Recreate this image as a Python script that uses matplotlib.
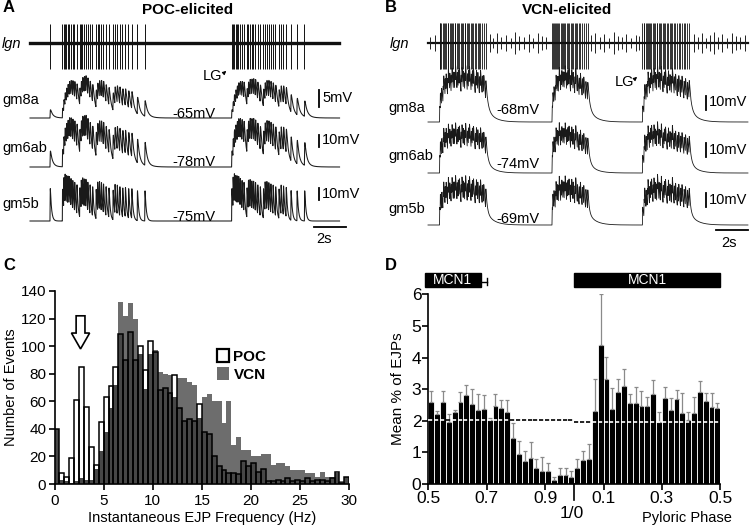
import numpy as np
import matplotlib.pyplot as plt
from matplotlib.patches import Rectangle, FancyArrow, Patch

plt.rcParams['font.family'] = ['Liberation Sans', 'DejaVu Sans']

W, H = 750, 529

# ---------------- data ----------------
# LG spike times (s), panel A (POC-elicited)
lg_poc = [1.25,
          2.02, 2.10, 2.18, 2.27, 2.36, 2.45, 2.55, 2.66, 2.78, 2.92,
          3.10, 3.19, 3.28, 3.38, 3.48, 3.60, 3.74, 3.90,
          4.12, 4.22, 4.33, 4.45, 4.58, 4.74, 4.92,
          5.18, 5.30, 5.44, 5.60, 5.78, 5.95, 6.15, 6.35, 6.70, 7.17,
          12.60, 12.68, 12.76, 12.85, 12.94, 13.03, 13.13, 13.24, 13.36,
          13.55, 13.64, 13.74, 13.85, 13.96, 14.08, 14.22, 14.38,
          14.58, 14.68, 14.79, 14.91, 15.04, 15.18, 15.34,
          15.55, 15.68, 15.83, 16.00, 16.30, 16.68, 17.15]

# LG spike times (s), panel B (VCN-elicited)
lg_vcn = [0.72, 0.76, 0.84, 0.93, 0.97, 1.06, 1.12, 1.22, 1.26, 1.35, 1.44, 1.49,
          1.58, 1.66, 1.71, 1.81, 1.88, 1.95, 2.06, 2.11, 2.20, 2.29, 2.34, 2.45,
          2.52, 2.58, 2.69, 2.76, 2.83, 2.95, 3.01, 3.10, 3.21, 3.27, 3.38, 3.47, 3.60,
          7.75, 7.79, 7.86, 7.95, 7.99, 8.07, 8.15, 8.19, 8.29, 8.35, 8.43, 8.51,
          8.56, 8.66, 8.73, 8.80, 8.91, 8.97, 9.06, 9.17, 9.22, 9.33, 9.44, 9.51,
          9.63, 9.72, 9.85, 9.97,
          13.40, 13.49, 13.53, 13.62, 13.70, 13.74, 13.84, 13.90, 13.96, 14.06,
          14.11, 14.20, 14.29, 14.33, 14.43, 14.52, 14.57, 14.69, 14.76, 14.83,
          14.95, 15.01, 15.11, 15.21, 15.26, 15.38, 15.46, 15.58, 15.66, 15.78,
          15.86, 15.99, 16.08, 16.21, 16.31]

# other (small) lgn units in panel B: times (s) and half-heights
small_t = [0.15, 0.42, 3.85, 4.05, 4.30, 4.55, 4.90, 5.20, 5.45, 5.70, 6.00, 6.30,
           6.55, 6.85, 7.10, 7.40, 10.20, 10.45, 10.75, 11.00, 11.30, 11.60, 11.85,
           12.15, 12.40, 12.70, 13.00, 13.20, 16.60, 16.85, 17.10, 17.35, 17.60,
           17.90, 18.15, 18.40, 18.70, 19.00, 19.25, 19.50, 19.80]
small_h = [6, 8, 9, 5, 10, 6, 8, 5, 11, 7, 6, 9,
           5, 10, 7, 6, 8, 10, 6, 9, 5, 11, 7,
           6, 9, 5, 8, 7, 9, 6, 10, 5, 8,
           11, 6, 9, 5, 10, 7, 6, 8]

muscles = ['gm8a', 'gm6ab', 'gm5b']
rest_poc = ['-65mV', '-78mV', '-75mV']
rest_vcn = ['-68mV', '-74mV', '-69mV']
scale_poc = ['5mV', '10mV', '10mV']
scale_vcn = ['10mV', '10mV', '10mV']

# panel C: histogram counts, 0.5 Hz bins from 0 to 30 Hz
poc_counts = [40, 8, 5, 19, 61, 85, 56, 27, 14, 45,
              63, 71, 85, 109, 90, 110, 90, 100, 83, 104,
              96, 68, 70, 66, 79, 55, 46, 47, 46, 58,
              38, 36, 20, 13, 10, 8, 8, 7, 17, 13,
              15, 9, 11, 2, 2, 3, 2, 4, 2, 3,
              2, 4, 2, 3, 3, 2, 4, 9, 1, 5]
vcn_counts = [40, 3, 2, 1, 2, 4, 3, 3, 11, 24,
              38, 55, 72, 132, 122, 131, 120, 94, 69, 94,
              97, 81, 80, 79, 63, 77, 77, 74, 72, 48,
              63, 65, 60, 60, 44, 60, 28, 34, 25, 25,
              20, 20, 22, 22, 14, 15, 15, 13, 10, 10,
              10, 8, 8, 5, 9, 5, 5, 8, 2, 5]

# panel D: mean % of EJPs per phase bin (0.02 wide) from 0.5 through 1/0 to 0.5
ejp_mean = [2.58, 2.22, 2.60, 1.97, 2.27, 2.58, 2.80, 2.52, 2.33, 2.38,
            2.02, 2.48, 2.40, 2.28, 1.44, 0.95, 0.74, 0.83, 0.50, 0.42,
            0.40, 0.13, 0.30, 0.30, 0.23,
            0.50, 0.76, 0.80, 2.31, 4.39, 3.31, 2.37, 2.91, 3.11, 2.55,
            2.55, 2.48, 2.47, 2.84, 1.97, 2.71, 2.33, 2.68, 2.24, 2.03,
            2.26, 2.90, 2.62, 2.42, 2.39]
ejp_top = [2.93, 2.32, 2.95, 2.20, 2.35, 2.90, 3.13, 3.02, 2.84, 2.80,
           2.10, 2.85, 2.65, 2.65, 1.92, 1.35, 1.05, 1.32, 0.80, 0.85,
           0.65, 0.22, 0.50, 0.52, 0.42,
           0.78, 1.05, 1.26, 3.33, 6.00, 4.03, 3.03, 3.33, 3.63, 2.85,
           3.06, 2.95, 2.74, 3.29, 2.27, 3.08, 2.71, 2.97, 2.89, 2.29,
           2.76, 3.26, 2.89, 2.89, 2.55]
mean_level = [2.02, 1.95]   # dashed reference lines (first / second half)
phase_ticks = ['0.5', '0.7', '0.9', '0.1', '0.3', '0.5']


def psp(t, spikes, a0, amax, c, tau_d, tau_r=0.012, slow=0.0, tau_s=0.5, tau_f=1.0):
    v = np.zeros_like(t)
    F = 0.0
    prev = None
    for ts in spikes:
        if prev is not None:
            F *= np.exp(-(ts - prev) / tau_f)
        a = a0 + (amax - a0) * (1 - np.exp(-F / c))
        F += 1.0
        prev = ts
        s = t - ts
        m = s > 0
        sm = s[m]
        v[m] += a * ((1 - slow) * np.exp(-sm / tau_d) + slow * np.exp(-sm / tau_s)) * (1 - np.exp(-sm / tau_r))
    return v


def P(x, y):
    return x / W, 1 - y / H


fig = plt.figure(figsize=(7.5, 5.29), dpi=100)
trace_c = '#1a1a1a'

# ---------------- panel A ----------------
axA = fig.add_axes([0, 1 - 250 / H, 375 / W, 250 / H])
axA.set_xlim(-30 / 16, 345 / 16)
axA.set_ylim(250, 0)
axA.axis('off')
tA = np.arange(0, 19.35, 0.004)
axA.plot([0, 19.3], [43, 43], color='#111111', lw=2.4)
axA.vlines(lg_poc, 24, 69, color='#111111', lw=0.7)
paramsA = [dict(a0=11, amax=28, c=4, tau_d=0.14, slow=0.1, tau_s=0.35),
           dict(a0=22, amax=36, c=3, tau_d=0.12, slow=0.08, tau_s=0.35),
           dict(a0=46, amax=42, c=2, tau_d=0.075, tau_r=0.008)]
baseA = [118, 167, 221]
for b, prm in zip(baseA, paramsA):
    axA.plot(tA, b - psp(tA, lg_poc, **prm), color=trace_c, lw=0.75)
# scale bars
for (y0, y1) in [(90, 107), (135, 147), (188, 200)]:
    axA.plot([18.05, 18.05], [y0, y1], color='black', lw=1.3)
axA.plot([17.75, 19.75], [227, 227], color='black', lw=1.3)

fig.text(*P(3, 8), 'A', fontsize=12, fontweight='bold', va='center')
fig.text(*P(188, 10), 'POC-elicited', fontsize=11, fontweight='bold', ha='center', va='center')
fig.text(*P(2, 44), 'lgn', fontsize=10.5, style='italic', va='center')
fig.text(*P(212, 76), 'LG', fontsize=10.5, ha='center', va='center')
axA.annotate('', xy=(12.4, 69), xytext=(12.05, 74),
             arrowprops=dict(arrowstyle='-|>', color='black', lw=0.8, mutation_scale=5))
for name, y in zip(muscles, [100, 148, 204]):
    fig.text(*P(2, y), name, fontsize=10.5, va='center')
for lab, y in zip(rest_poc, [114, 162, 217]):
    fig.text(*P(194, y), lab, fontsize=10.5, ha='center', va='center')
for lab, y in zip(scale_poc, [98, 140, 194]):
    fig.text(*P(322, y), lab, fontsize=10.5, va='center')
fig.text(*P(324, 239), '2s', fontsize=10.5, ha='center', va='center')

# ---------------- panel B ----------------
axB = fig.add_axes([375 / W, 1 - 250 / H, 375 / W, 250 / H])
axB.set_xlim(-53 / 16, 322 / 16)
axB.set_ylim(250, 0)
axB.axis('off')
tB = np.arange(0, 20.0, 0.004)
axB.plot([0, 20.0], [43, 43], color='#111111', lw=1.6)
axB.vlines(small_t, [43 - h for h in small_h], [43 + h for h in small_h], color='#222222', lw=0.7)
axB.vlines(lg_vcn, 23, 69, color='#111111', lw=0.6)
paramsB = [dict(a0=20, amax=25, c=3, tau_d=0.11, tau_r=0.008, slow=0.12, tau_s=0.45),
           dict(a0=23, amax=24, c=3, tau_d=0.10, tau_r=0.008, slow=0.1, tau_s=0.45),
           dict(a0=24, amax=27, c=3, tau_d=0.08, tau_r=0.008, slow=0.1, tau_s=0.45)]
baseB = [122, 173, 225]
for b, prm in zip(baseB, paramsB):
    axB.plot(tB, b - psp(tB, lg_vcn, **prm), color=trace_c, lw=0.6)
for (y0, y1) in [(96, 110), (143, 157), (193, 207)]:
    axB.plot([17.4, 17.4], [y0, y1], color='black', lw=1.3)
axB.plot([18.0, 20.0], [230, 230], color='black', lw=1.3)

fig.text(*P(385, 8), 'B', fontsize=12, fontweight='bold', va='center')
fig.text(*P(567, 10), 'VCN-elicited', fontsize=11, fontweight='bold', ha='center', va='center')
fig.text(*P(390, 44), 'lgn', fontsize=10.5, style='italic', va='center')
fig.text(*P(624, 82), 'LG', fontsize=10.5, ha='center', va='center')
axB.annotate('', xy=(13.2, 75), xytext=(12.85, 80),
             arrowprops=dict(arrowstyle='-|>', color='black', lw=0.8, mutation_scale=5))
for name, y in zip(muscles, [108, 156, 209]):
    fig.text(*P(388, y), name, fontsize=10.5, va='center')
for lab, y in zip(rest_vcn, [110, 164, 219]):
    fig.text(*P(518, y), lab, fontsize=10.5, ha='center', va='center')
for lab, y in zip(scale_vcn, [102, 150, 200]):
    fig.text(*P(709, y), lab, fontsize=10.5, va='center')
fig.text(*P(729, 243), '2s', fontsize=10.5, ha='center', va='center')

# ---------------- panel C ----------------
axC = fig.add_axes([54.5 / W, 45 / H, 294.8 / W, 193 / H])
edges = np.linspace(0, 30, len(poc_counts) + 1)[:-1]
both = np.minimum(poc_counts, vcn_counts)
axC.bar(edges, poc_counts, width=0.5, align='edge', color='white', zorder=1)
axC.bar(edges, vcn_counts, width=0.5, align='edge', color='#6d6d6d', zorder=2)
axC.bar(edges, both, width=0.5, align='edge', color='#474747', zorder=3)
axC.bar(edges, poc_counts, width=0.5, align='edge', fill=False, edgecolor='black', lw=1.1, zorder=4)
axC.set_xlim(0, 30)
axC.set_ylim(0, 140)
axC.set_xticks(range(0, 31, 5))
axC.set_yticks(range(0, 141, 20))
for s in ['top', 'right']:
    axC.spines[s].set_visible(False)
for s in ['left', 'bottom']:
    axC.spines[s].set_linewidth(1.2)
axC.tick_params(direction='out', length=4, width=1.2, labelsize=11)
axC.tick_params(axis='y', pad=2)
axC.set_xlabel('Instantaneous EJP Frequency (Hz)', fontsize=10.5, labelpad=2)
axC.set_ylabel('Number of Events', fontsize=10.5, labelpad=2)
axC.add_patch(FancyArrow(2.65, 122, 0, -24, width=0.9, head_width=1.85, head_length=11.5,
                         length_includes_head=True, fc='white', ec='black', lw=1.2, zorder=6))
axC.legend(handles=[Patch(fc='white', ec='black', lw=1.6, label='POC'),
                    Patch(fc='#6d6d6d', ec='none', label='VCN')],
           loc='upper left', bbox_to_anchor=(0.55, 0.70), frameon=False,
           prop=dict(weight='bold', size=11), handlelength=0.8, handleheight=0.9,
           handletextpad=0.3, labelspacing=0.25, borderaxespad=0, borderpad=0)
fig.text(*P(3, 265), 'C', fontsize=12, fontweight='bold', va='center')

# ---------------- panel D ----------------
axD = fig.add_axes([428.3 / W, 45 / H, 292 / W, 189.7 / H])
nb = len(ejp_mean)
bw = 1.0 / nb
left = 0.5 + bw * np.arange(nb)
centers = left + bw / 2
axD.bar(left, ejp_mean, width=bw, align='edge', color='black', edgecolor='white', lw=0.6, zorder=2)
axD.errorbar(centers, ejp_mean, yerr=[np.zeros(nb), np.array(ejp_top) - np.array(ejp_mean)],
             fmt='none', ecolor='#8a8a8a', elinewidth=0.9, capsize=1.5, capthick=0.9, zorder=3)
for i in range(nb):
    lvl = mean_level[0] if i < nb // 2 else mean_level[1]
    col = 'white' if ejp_mean[i] >= lvl else 'black'
    axD.plot([left[i], left[i] + bw], [lvl, lvl], color=col, lw=1.2, ls=(0, (2.5, 1.5)), zorder=4)
axD.set_xlim(0.5, 1.5)
axD.set_ylim(0, 6)
axD.set_xticks([0.5, 0.7, 0.9, 1.1, 1.3, 1.5])
axD.set_xticklabels(phase_ticks)
axD.set_yticks(range(0, 7))
for s in ['top', 'right']:
    axD.spines[s].set_visible(False)
for s in ['left', 'bottom']:
    axD.spines[s].set_linewidth(1.2)
axD.tick_params(direction='out', length=4, width=1.2, labelsize=12.5, pad=1)
axD.set_ylabel('Mean % of EJPs', fontsize=11, labelpad=5)
axD.plot([1.0, 1.0], [0, -0.5], color='black', lw=1.2, clip_on=False)
axD.text(0.99, -0.92, '1/0', fontsize=12.5, ha='center', va='center')
axD.text(1.04, -0.18, 'Pyloric Phase', fontsize=10.5, ha='right', va='center', transform=axD.transAxes)
# MCN1 activity boxes
axD.add_patch(Rectangle((0.487, 6.23), 0.193, 0.45, color='black', clip_on=False))
axD.text(0.583, 6.45, 'MCN1', color='white', fontsize=10, ha='center', va='center')
axD.plot([0.68, 0.70], [6.38, 6.38], color='black', lw=1.0, clip_on=False)
axD.plot([0.70, 0.70], [6.28, 6.5], color='black', lw=1.0, clip_on=False)
axD.add_patch(Rectangle((1.0, 6.23), 0.5, 0.45, color='black', clip_on=False))
axD.text(1.25, 6.45, 'MCN1', color='white', fontsize=10, ha='center', va='center')
fig.text(*P(385, 265), 'D', fontsize=12, fontweight='bold', va='center')

fig.savefig('out.png', dpi=100)
